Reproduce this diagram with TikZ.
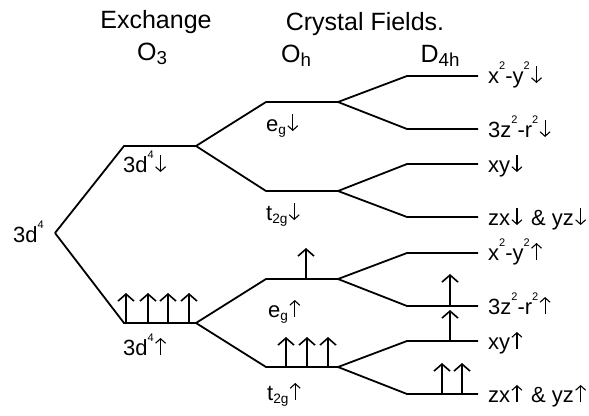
\documentclass[tikz,border=0pt]{standalone}
\usepackage{fontspec}
\setmainfont{Liberation Sans}
\usetikzlibrary{arrows.meta}
\newcommand\supx[1]{\raisebox{1.15ex}{\scalebox{0.5}{#1}}}
\newcommand\subx[1]{\raisebox{-0.3ex}{\scalebox{0.62}{#1}}}
\newcommand\hsub[1]{\raisebox{-0.35ex}{\scalebox{0.75}{#1}}}
\newcommand\dar{\hspace{1.2pt}\tikz[baseline=0pt,x=1pt,y=1pt]\draw[line width=1.1pt,-{Straight Barb[length=4.5pt,width=10pt,line width=1.1pt]}] (0,17) -- (0,0);\hspace{0.5pt}}
\newcommand\uar{\hspace{1.2pt}\tikz[baseline=0pt,x=1pt,y=1pt]\draw[line width=1.1pt,-{Straight Barb[length=4.5pt,width=10pt,line width=1.1pt]}] (0,0) -- (0,17);\hspace{0.5pt}}
\begin{document}
\begin{tikzpicture}[x=1pt,y=-1pt,
  lvl/.style={line width=1.8pt, line join=miter},
  spin/.style={line width=1.6pt, -{Straight Barb[length=7pt,width=16pt,line width=1.6pt]}},
  head/.style={font=\fontsize{25}{29}\selectfont, anchor=base, inner sep=0pt},
  lab/.style={font=\fontsize{22}{26}\selectfont, inner sep=0pt}]
\useasboundingbox (0,0) rectangle (589,415);
% headings
\node[head] (hex) at (156,28) {Exchange};
\node[head] (ho3) at (152,60) {O\hsub{3}};
\node[head] (hcf) at (365,30) {Crystal Fields.};
\node[head] (hoh) at (296,62) {O\hsub{h}};
\node[head] (hd4) at (440,62) {D\hsub{4h}};
% coordinates
\coordinate (V) at (55,233);
\coordinate (Ad1) at (124,146); \coordinate (Ad2) at (196,146);
\coordinate (Au1) at (124,323); \coordinate (Au2) at (196,323);
\coordinate (Ed1) at (266,102); \coordinate (Ed2) at (338,102);
\coordinate (Td1) at (266,191); \coordinate (Td2) at (338,191);
\coordinate (Eu1) at (266,279); \coordinate (Eu2) at (338,279);
\coordinate (Tu1) at (266,367); \coordinate (Tu2) at (338,367);
\coordinate (X1d) at (407,76);  \coordinate (X2d) at (478,76);
\coordinate (Z1d) at (407,129); \coordinate (Z2d) at (478,129);
\coordinate (Y1d) at (407,164); \coordinate (Y2d) at (478,164);
\coordinate (W1d) at (407,217); \coordinate (W2d) at (478,217);
\coordinate (X1u) at (407,253); \coordinate (X2u) at (478,253);
\coordinate (Z1u) at (407,306); \coordinate (Z2u) at (478,306);
\coordinate (Y1u) at (407,341); \coordinate (Y2u) at (478,341);
\coordinate (W1u) at (407,394); \coordinate (W2u) at (478,394);
% levels and connectors
\draw[lvl] (V) -- (Ad1) -- (Ad2);
\draw[lvl] (V) -- (Au1) -- (Au2);
\draw[lvl] (Ad2) -- (Ed1) -- (Ed2);
\draw[lvl] (Ad2) -- (Td1) -- (Td2);
\draw[lvl] (Au2) -- (Eu1) -- (Eu2);
\draw[lvl] (Au2) -- (Tu1) -- (Tu2);
\draw[lvl] (Ed2) -- (X1d) -- (X2d);
\draw[lvl] (Ed2) -- (Z1d) -- (Z2d);
\draw[lvl] (Td2) -- (Y1d) -- (Y2d);
\draw[lvl] (Td2) -- (W1d) -- (W2d);
\draw[lvl] (Eu2) -- (X1u) -- (X2u);
\draw[lvl] (Eu2) -- (Z1u) -- (Z2u);
\draw[lvl] (Tu2) -- (Y1u) -- (Y2u);
\draw[lvl] (Tu2) -- (W1u) -- (W2u);
% spins
\foreach \x in {126,148,168,189} \draw[spin] (\x,323) -- ++(0,-30);
\draw[spin] (306,279) -- ++(0,-31);
\foreach \x in {286,307,328} \draw[spin] (\x,367) -- ++(0,-30);
\draw[spin] (450,306) -- ++(0,-32);
\draw[spin] (450,341) -- ++(0,-31);
\foreach \x in {442,462} \draw[spin] (\x,394) -- ++(0,-31);
% labels
\node[lab, anchor=base east] (l3d) at (44,242) {3d\supx{4}};
\node[lab, anchor=base west] (lad) at (123,172) {3d\supx{4}\dar};
\node[lab, anchor=base west] (lau) at (123,355) {3d\supx{4}\uar};
\node[lab, anchor=base west] (led) at (266,131) {e\subx{g}\dar};
\node[lab, anchor=base west] (ltd) at (266,220) {t\subx{2g}\dar};
\node[lab, anchor=base west] (leu) at (268,317) {e\subx{g}\uar};
\node[lab, anchor=base west] (ltu) at (267,400) {t\subx{2g}\uar};
\node[lab, anchor=base west] (rxd) at (488,83) {x\supx{2}-y\supx{2}\dar};
\node[lab, anchor=base west] (rzd) at (488,137) {3z\supx{2}-r\supx{2}\dar};
\node[lab, anchor=base west] (ryd) at (488,172) {xy\dar};
\node[lab, anchor=base west] (rwd) at (488,225) {zx\dar\hspace{2pt} \& yz\dar};
\node[lab, anchor=base west] (rxu) at (488,260) {x\supx{2}-y\supx{2}\uar};
\node[lab, anchor=base west] (rzu) at (488,314) {3z\supx{2}-r\supx{2}\uar};
\node[lab, anchor=base west] (ryu) at (488,349) {xy\uar};
\node[lab, anchor=base west] (rwu) at (488,402) {zx\uar\hspace{2pt} \& yz\uar};
\end{tikzpicture}
\end{document}
